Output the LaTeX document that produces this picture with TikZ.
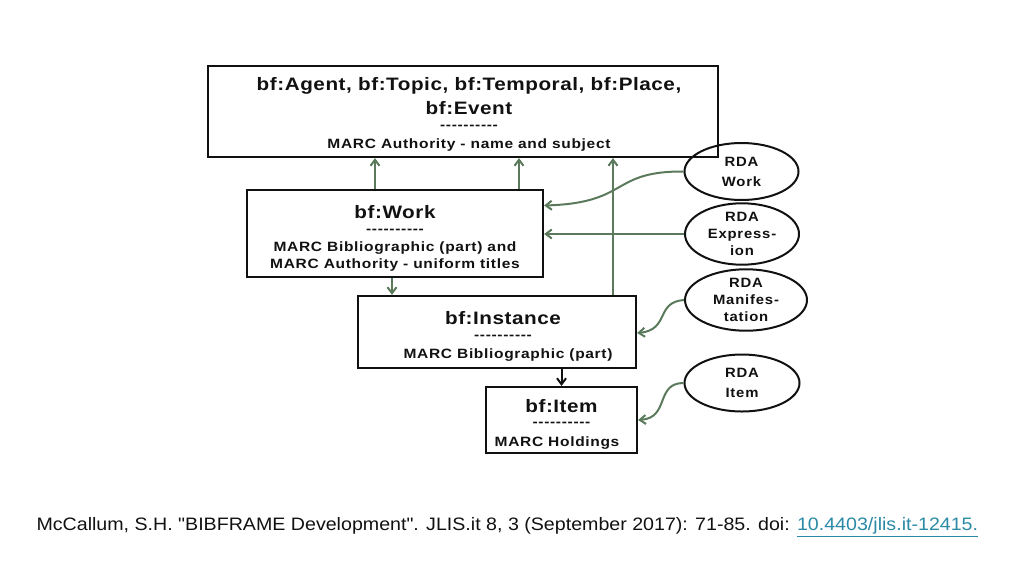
\documentclass[tikz,border=0pt]{standalone}
\usepackage{fontspec}
\setmainfont{Liberation Sans}[Ligatures=TeXOff]
\usepackage{xcolor}
\usetikzlibrary{arrows.meta,shapes.geometric}
\definecolor{diagramink}{HTML}{111111}
\definecolor{linkgreen}{HTML}{5B7A5B}
\definecolor{doiteal}{HTML}{2A8AA6}
\newcommand{\dashline}{-{}-{}-{}-{}-{}-{}-{}-{}-{}-}

\begin{document}
\begin{tikzpicture}[
  x=1pt,
  y=-1pt,
  every node/.style={font=\bfseries, text=diagramink},
  entity/.style={draw=diagramink, line width=2.2pt, rectangle, inner sep=0pt, align=center},
  rda/.style={draw=diagramink, line width=2pt, ellipse, inner sep=0pt,
    minimum width=114pt, minimum height=57pt, align=center,
    font=\bfseries\fontsize{13.5}{20}\selectfont\addfontfeatures{LetterSpace=6,FakeStretch=1.1}},
  head/.style={font=\bfseries\fontsize{18}{22}\selectfont\addfontfeatures{LetterSpace=3,FakeStretch=1.15}},
  marc/.style={font=\bfseries\fontsize{13.5}{17}\selectfont\addfontfeatures{LetterSpace=5,FakeStretch=1.15}},
  link/.style={draw=linkgreen, line width=2pt, -{Straight Barb[length=6pt,width=9pt]}}
]
  \useasboundingbox (0,0) rectangle (1024,576);

  % entity boxes
  \node[entity, minimum width=510pt, minimum height=91pt] (auth) at (463,111.5) {};
  \node[head] (authhead) at (469,86) {bf:Agent, bf:Topic, bf:Temporal, bf:Place,};
  \node[head] (authevent) at (469,108) {bf:Event};
  \node[marc] (authdash) at (469,127) {\dashline};
  \node[marc] (authmarc) at (469,145) {MARC Authority - name and subject};

  \node[entity, minimum width=296pt, minimum height=87pt] (work) at (395,233.5) {};
  \node[head] (workhead) at (395,212) {bf:Work};
  \node[marc] (workdash) at (395,231) {\dashline};
  \node[marc] (workmarc) at (395,248) {MARC Bibliographic (part) and};
  \node[marc] (workauth) at (395,265) {MARC Authority - uniform titles};

  \node[entity, minimum width=278pt, minimum height=72pt] (inst) at (497,332) {};
  \node[head] (insthead) at (503,318) {bf:Instance};
  \node[marc] (instdash) at (503,337) {\dashline};
  \node[marc] (instmarc) at (508,355) {MARC Bibliographic (part)};

  \node[entity, minimum width=151pt, minimum height=66pt] (item) at (561.5,420) {};
  \node[head] (itemhead) at (561.5,406) {bf:Item};
  \node[marc] (itemdash) at (561.5,424) {\dashline};
  \node[marc] (itemmarc) at (557,443) {MARC Holdings};

  % RDA ellipses
  \node[rda] (rdawork) at (741.5,171.5) {RDA\\Work};
  \node[rda] (rdaexpr) at (742,234) {RDA\\[-3pt]Express-\\[-3pt]ion};
  \node[rda, minimum width=122pt, minimum height=56pt] (rdamanif) at (746,300) {RDA\\[-3pt]Manifes-\\[-3pt]tation};
  \node[rda, minimum width=115pt] (rdaitem) at (742,383) {RDA\\Item};

  % connectors
  \draw[link] ([xshift=-20pt]work.north) -- ([xshift=-20pt]work.north |- auth.south);
  \draw[link] ([xshift=124pt]work.north) -- ([xshift=124pt]work.north |- auth.south);
  \draw[link] ([xshift=116pt]inst.north) -- ([xshift=116pt]inst.north |- auth.south);
  \draw[link] ([xshift=-3pt]work.south) -- ([xshift=-3pt]work.south |- inst.north);
  \draw[draw=diagramink, line width=2pt, -{Straight Barb[length=6pt,width=9pt]}]
    (inst.south -| item.north) -- (item.north);

  \draw[link] (rdawork.west) .. controls (610,171) and (630,203) .. ([yshift=28pt]work.east);
  \draw[link] (rdaexpr.west) -- (rdaexpr.west -| work.east);
  \draw[link] (rdamanif.west) .. controls (655,302) and (670,330) .. ([yshift=-1pt]inst.east);
  \draw[link] (rdaitem.west) .. controls (655,383) and (670,418) .. (item.east);

  % citation
  \node[anchor=west, font=\fontsize{18}{20}\selectfont\addfontfeatures{FakeStretch=1.09}] (cite) at (33,527)
    {McCallum, S.H. "BIBFRAME Development". JLIS.it 8, 3 (September 2017): 71-85. doi: \textcolor{doiteal}{\underline{10.4403/jlis.it-12415.}}};
\end{tikzpicture}
\end{document}
